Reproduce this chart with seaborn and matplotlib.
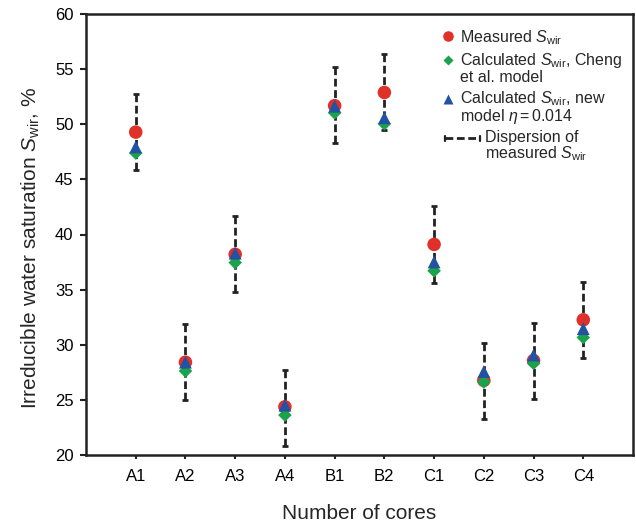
import numpy as np
import pandas as pd
import matplotlib
matplotlib.use("Agg")
import matplotlib.pyplot as plt
import seaborn as sns
from matplotlib.lines import Line2D
from matplotlib.legend_handler import HandlerBase

# ---------------- data ----------------
cores = ["A1", "A2", "A3", "A4", "B1", "B2", "C1", "C2", "C3", "C4"]
measured = [49.3, 28.4, 38.2, 24.35, 51.7, 52.9, 39.1, 26.75, 28.55, 32.25]
cheng = [47.4, 27.6, 37.45, 23.6, 51.05, 50.05, 36.7, 26.6, 28.3, 30.65]
new_model = [47.95, 28.4, 38.3, 24.5, 51.65, 50.6, 37.5, 27.55, 29.05, 31.45]
disp_low = [45.85, 24.95, 34.8, 20.8, 48.3, 49.5, 35.6, 23.25, 25.1, 28.8]
disp_high = [52.75, 31.85, 41.7, 27.7, 55.2, 56.35, 42.55, 30.1, 32.0, 35.7]

RED = "#E0302A"
GREEN = "#1BA34C"
BLUE = "#2452A3"
DARK = "#222222"

df = pd.DataFrame({"core": cores, "measured": measured, "cheng": cheng,
                   "new": new_model, "lo": disp_low, "hi": disp_high})

sns.set_style("ticks")
plt.rcParams["font.family"] = ["Liberation Sans", "DejaVu Sans"]
plt.rcParams["mathtext.fontset"] = "custom"
plt.rcParams["mathtext.rm"] = "Liberation Sans"
plt.rcParams["mathtext.it"] = "Liberation Sans:italic"
plt.rcParams["mathtext.bf"] = "Liberation Sans:bold"

fig = plt.figure(figsize=(6.36, 5.25), dpi=100)
ax = fig.add_axes([86 / 636, 1 - 454.7 / 525, (633 - 86) / 636, (454.7 - 14.3) / 525])

# dispersion bars (dashed, capped)
xpos = np.arange(len(cores))
mid = (np.array(disp_low) + np.array(disp_high)) / 2
err = [mid - np.array(disp_low), np.array(disp_high) - mid]
eb = ax.errorbar(xpos, mid, yerr=err, fmt="none", ecolor=DARK,
                 elinewidth=2.0, capsize=2.2, capthick=2.0, zorder=2)
for lc in eb.lines[2]:
    lc.set_linestyle((0, (2.8, 1.3)))

sns.scatterplot(data=df, x="core", y="measured", ax=ax, marker="o", s=95,
                color=RED, edgecolor="none", linewidth=0, zorder=3, legend=False)
sns.scatterplot(data=df, x="core", y="cheng", ax=ax, marker="D", s=48,
                color=GREEN, edgecolor="none", linewidth=0, zorder=4, legend=False)
sns.scatterplot(data=df, x="core", y="new", ax=ax, marker="^", s=85,
                color=BLUE, edgecolor="none", linewidth=0, zorder=5, legend=False)

ax.set_xlim(-1, 10)
ax.set_ylim(20, 60)
ax.set_yticks(np.arange(20, 61, 5))
ax.set_xticks(xpos)
ax.set_xticklabels(cores)

for sp in ax.spines.values():
    sp.set_visible(True)
    sp.set_linewidth(1.8)
    sp.set_color(DARK)

ax.tick_params(axis="y", direction="out", length=4, width=1.5, color=DARK,
               labelsize=12, pad=5, labelcolor="black")
ax.tick_params(axis="x", direction="out", length=3, width=1.5, color=DARK,
               labelsize=12, pad=7, labelcolor="black")

ax.set_xlabel("Number of cores", fontsize=15)
ax.set_ylabel(r"Irreducible water saturation $\mathit{S}_{\mathrm{wir}}$, %", fontsize=15)
ax.xaxis.set_label_coords(0.5, -0.112)
ax.yaxis.set_label_coords(-0.08, 0.47)


# ---------------- legend ----------------
class MarkerHandler(HandlerBase):
    def __init__(self, yshift=0.0):
        super().__init__()
        self.yshift = yshift

    def create_artists(self, legend, orig_handle, xdescent, ydescent, width,
                       height, fontsize, trans):
        x = -xdescent + width / 2
        y = -ydescent + height / 2 + self.yshift
        ln = Line2D([x], [y], marker=orig_handle.get_marker(), ls="none",
                    markersize=orig_handle.get_markersize(),
                    markerfacecolor=orig_handle.get_markerfacecolor(),
                    markeredgecolor="none")
        ln.set_transform(trans)
        return [ln]


class DispHandler(HandlerBase):
    def __init__(self, yshift=0.0):
        super().__init__()
        self.yshift = yshift

    def create_artists(self, legend, orig_handle, xdescent, ydescent, width,
                       height, fontsize, trans):
        y = -ydescent + height / 2 + self.yshift
        x0 = -xdescent
        x1 = -xdescent + width
        ln = Line2D([x0, x1], [y, y], color=DARK, lw=2.0,
                    linestyle=(0, (2.8, 1.3)))
        ln.set_transform(trans)
        c = 2.0
        cap0 = Line2D([x0, x0], [y - c, y + c], color=DARK, lw=1.6)
        cap1 = Line2D([x1, x1], [y - c, y + c], color=DARK, lw=1.6)
        cap0.set_transform(trans)
        cap1.set_transform(trans)
        return [ln, cap0, cap1]


h_meas = Line2D([], [], marker="o", markersize=7.6, markerfacecolor=RED, ls="none")
h_cheng = Line2D([], [], marker="D", markersize=5.4, markerfacecolor=GREEN, ls="none")
h_new = Line2D([], [], marker="^", markersize=7.4, markerfacecolor=BLUE, ls="none")
h_disp = Line2D([], [], color=DARK)

shift = 6.2
FS = 11.5
leg1 = ax.legend(
    [h_meas, h_cheng, h_new],
    [r"Measured $\mathit{S}_{\mathrm{wir}}$",
     "Calculated $\\mathit{S}_{\\mathrm{wir}}$, Cheng\net al. model",
     "Calculated $\\mathit{S}_{\\mathrm{wir}}$, new\nmodel $\\eta = 0.014$"],
    handler_map={h_meas: MarkerHandler(0.0), h_cheng: MarkerHandler(shift),
                 h_new: MarkerHandler(shift)},
    loc="upper left", bbox_to_anchor=(441.5 / 636, 1 - 28 / 525),
    bbox_transform=fig.transFigure, frameon=False, fontsize=FS,
    handlelength=0.8, handletextpad=0.36, borderpad=0, borderaxespad=0,
    labelspacing=0.28)
for t in leg1.get_texts():
    t.set_linespacing(0.95)
ax.add_artist(leg1)

leg2 = ax.legend(
    [h_disp], ["Dispersion of\nmeasured $\\mathit{S}_{\\mathrm{wir}}$"],
    handler_map={h_disp: DispHandler(shift)},
    loc="upper left", bbox_to_anchor=(445 / 636, 1 - 130 / 525),
    bbox_transform=fig.transFigure, frameon=False, fontsize=FS,
    handlelength=2.2, handletextpad=0.3, borderpad=0, borderaxespad=0)
for t in leg2.get_texts():
    t.set_linespacing(0.95)

fig.savefig("out.png", dpi=100)
